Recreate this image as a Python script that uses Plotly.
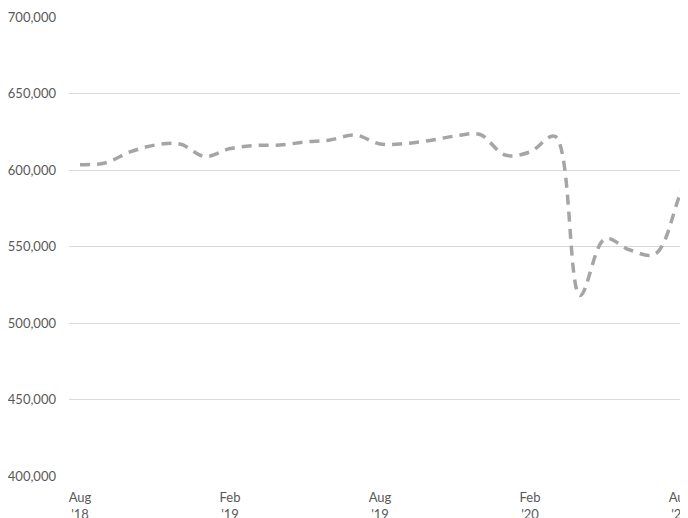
import plotly.graph_objects as go

months = ["Aug '18", "Sep '18", "Oct '18", "Nov '18", "Dec '18", "Jan '19", "Feb '19",
          "Mar '19", "Apr '19", "May '19", "Jun '19", "Jul '19", "Aug '19", "Sep '19",
          "Oct '19", "Nov '19", "Dec '19", "Jan '20", "Feb '20", "Mar '20", "Apr '20",
          "May '20", "Jun '20", "Jul '20", "Aug '20", "Sep '20"]
values = [603500, 604600, 611800, 616300, 617000, 608800, 614000, 616000, 616300, 618300,
          619600, 622900, 617000, 617300, 619300, 622200, 623200, 609800, 611800, 622000,
          518000, 555000, 547700, 545000, 584000, 630000]

tick_vals = ["Aug '18", "Feb '19", "Aug '19", "Feb '20", "Aug '20"]
tick_text = ["Aug<br>'18", "Feb<br>'19", "Aug<br>'19", "Feb<br>'20", "Aug<br>'20"]

fig = go.Figure()
fig.add_trace(go.Scatter(
    x=months, y=values, mode="lines",
    line=dict(color="#a5a5a5", width=3.5, dash="10px,7px", shape="spline", smoothing=1.0),
    hoverinfo="skip", showlegend=False,
))

fig.update_layout(
    width=680, height=510,
    margin=dict(l=61, r=0, t=9, b=42),
    paper_bgcolor="white", plot_bgcolor="white",
    font=dict(family="Lato, 'Open Sans', sans-serif", size=13, color="#595959"),
    xaxis=dict(
        type="category", range=[-0.44, 24.32],
        tickmode="array", tickvals=tick_vals, ticktext=tick_text,
        showgrid=False, showline=False, zeroline=False, ticks="",
        automargin=False, ticklabelstandoff=12,
    ),
    yaxis=dict(
        range=[400000, 700000], dtick=50000, tickformat=",",
        showgrid=True, gridcolor="#d9d9d9", gridwidth=1,
        zeroline=False, showline=False, ticks="", automargin=False,
        ticklabelstandoff=12,
    ),
)

fig.write_html("out.html")
